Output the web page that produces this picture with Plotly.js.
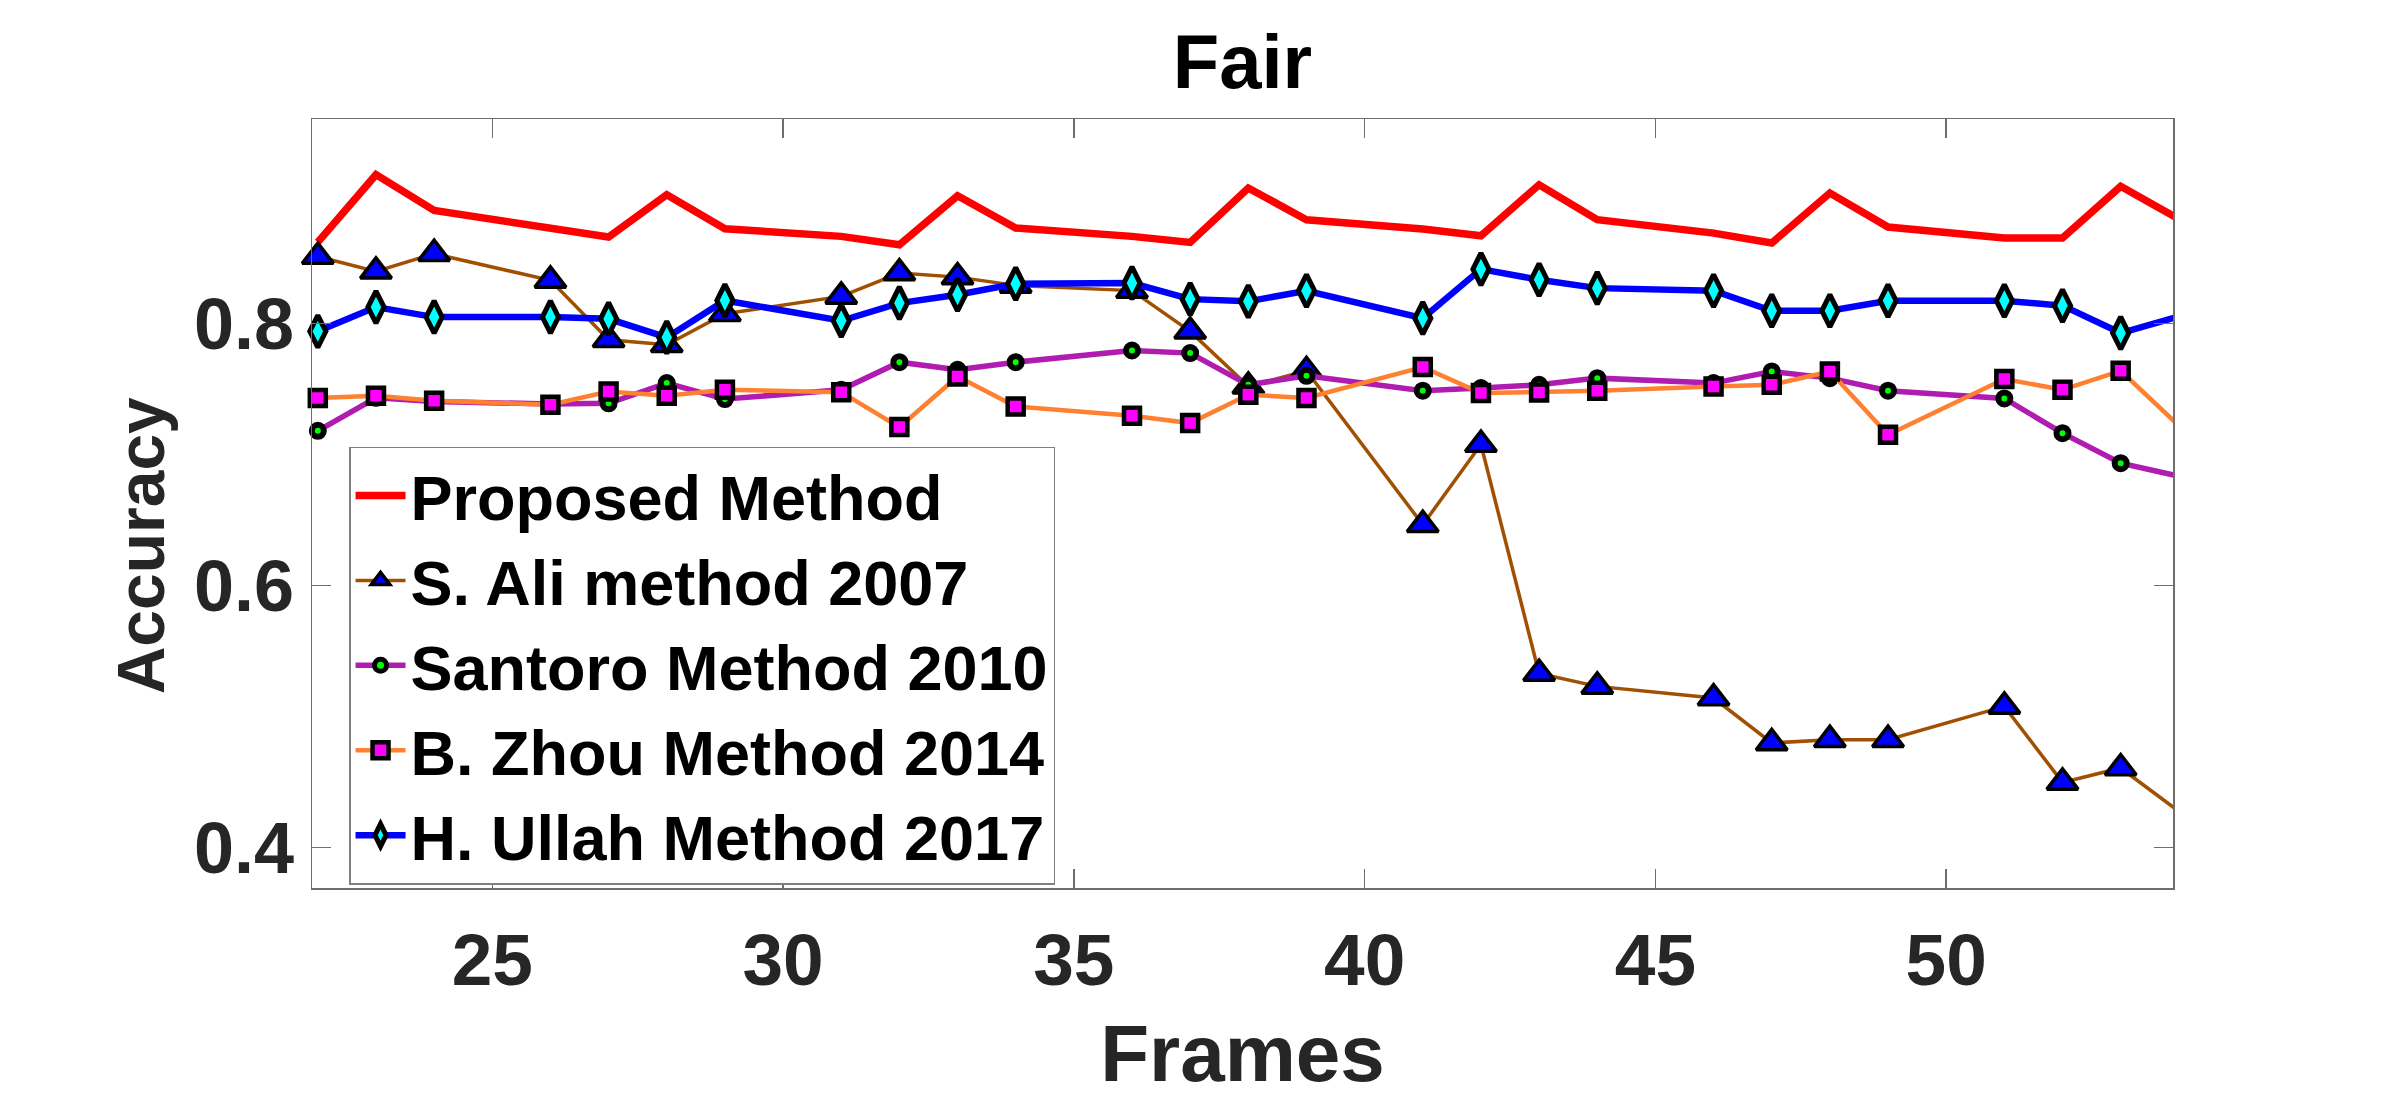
<!DOCTYPE html>
<html>
<head>
<meta charset="utf-8">
<script src="https://cdn.plot.ly/plotly-3.0.1.min.js"></script>
<style>
  html, body { margin: 0; padding: 0; background: #ffffff; }
  #chart { width: 2400px; height: 1098px; }
</style>
</head>
<body>
<div id="chart"></div>
<script>
// Frame numbers at which accuracy was evaluated
const frames = [22, 23, 24, 26, 27, 28, 29, 31, 32, 33, 34, 36, 37, 38, 39, 41, 42, 43, 44, 46, 47, 48, 49, 51, 52, 53, 54];

// Accuracy per method
const proposed = [0.862, 0.9135, 0.8862, 0.8728, 0.8659, 0.8982, 0.8722, 0.8664, 0.860, 0.8974, 0.8728, 0.8664, 0.8618, 0.9033, 0.8791, 0.872, 0.8669, 0.9058, 0.8791, 0.8689, 0.8613, 0.8995, 0.8735, 0.8651, 0.8651, 0.9046, 0.8796];
const sAli2007 = [0.851, 0.8397, 0.8532, 0.8328, 0.7875, 0.7837, 0.8073, 0.8206, 0.8384, 0.8353, 0.829, 0.825, 0.7939, 0.752, 0.7638, 0.6463, 0.7075, 0.5327, 0.5229, 0.514, 0.4797, 0.4822, 0.4822, 0.5076, 0.4496, 0.4606, 0.4275];
const santoro2010 = [0.718, 0.7432, 0.7404, 0.7384, 0.739, 0.7544, 0.7422, 0.7493, 0.7704, 0.7646, 0.7704, 0.7793, 0.7773, 0.7531, 0.760, 0.7486, 0.7506, 0.7531, 0.7582, 0.7544, 0.7633, 0.7582, 0.7486, 0.7427, 0.7162, 0.6933, 0.6834];
const zhou2014 = [0.743, 0.7447, 0.7409, 0.7379, 0.748, 0.7447, 0.7493, 0.7475, 0.7208, 0.7595, 0.7366, 0.7295, 0.7239, 0.7455, 0.743, 0.7666, 0.7468, 0.7473, 0.7486, 0.7519, 0.7531, 0.7633, 0.715, 0.7575, 0.7493, 0.7638, 0.722];
const ullah2017 = [0.7939, 0.8124, 0.8048, 0.8048, 0.8035, 0.7893, 0.8175, 0.802, 0.8155, 0.8219, 0.8302, 0.8308, 0.8185, 0.8168, 0.8249, 0.804, 0.8414, 0.8333, 0.8269, 0.8249, 0.8096, 0.8096, 0.8173, 0.8173, 0.8135, 0.7926, 0.8053];

// Axis ticks
const xTicks = [25, 30, 35, 40, 45, 50];
const yTicks = [0.4, 0.6, 0.8];
const yTickText = ['0.4', '0.6', '0.8'];

const FONT = 'Liberation Sans, Arial, Helvetica, sans-serif';
const AXIS_COLOR = '#6e6e6e';

const traces = [
  {
    x: frames, y: proposed, name: 'Proposed Method',
    mode: 'lines',
    line: { color: '#ff0000', width: 7.5 }
  },
  {
    x: frames, y: sAli2007, name: 'S. Ali method 2007',
    mode: 'lines+markers',
    line: { color: '#a05000', width: 3.5 },
    marker: { symbol: 'triangle-up', size: 27, color: '#0000ff', line: { color: '#000000', width: 3.5 } }
  },
  {
    x: frames, y: santoro2010, name: 'Santoro Method 2010',
    mode: 'lines+markers',
    line: { color: '#b01cb0', width: 5.5 },
    marker: { symbol: 'circle', size: 12, color: '#00ff00', line: { color: '#000000', width: 6 } }
  },
  {
    x: frames, y: zhou2014, name: 'B. Zhou Method 2014',
    mode: 'lines+markers',
    line: { color: '#ff8030', width: 4.5 },
    marker: { symbol: 'square', size: 16, color: '#ff00ff', line: { color: '#000000', width: 4.5 } }
  },
  {
    x: frames, y: ullah2017, name: 'H. Ullah Method 2017',
    mode: 'lines+markers',
    line: { color: '#0000ff', width: 6.5 },
    marker: { symbol: 'diamond-tall', size: 23, color: '#00ffff', line: { color: '#000000', width: 5 } }
  }
].map(t => Object.assign(t, { type: 'scatter', cliponaxis: false }));

const layout = {
  width: 2400,
  height: 1098,
  paper_bgcolor: '#ffffff',
  plot_bgcolor: '#ffffff',
  margin: { l: 312, r: 227, t: 119, b: 210, pad: 0 },
  font: { family: FONT, color: '#262626', weight: 'bold' },
  title: {
    text: 'Fair',
    font: { family: FONT, size: 76, color: '#000000', weight: 'bold' },
    xref: 'paper', x: 0.5, xanchor: 'center',
    yref: 'container', y: 0.944, yanchor: 'middle'
  },
  xaxis: {
    range: [21.9, 53.9],
    tickvals: xTicks,
    ticks: 'inside', ticklen: 19, tickwidth: 1.5, tickcolor: AXIS_COLOR,
    showline: true, linecolor: AXIS_COLOR, linewidth: 1.5, mirror: 'allticks',
    showgrid: false, zeroline: false,
    tickfont: { family: FONT, size: 73, color: '#262626', weight: 'bold' },
    ticklabelstandoff: 8,
    title: { text: 'Frames', font: { family: FONT, size: 80, color: '#262626', weight: 'bold' }, standoff: 35 }
  },
  yaxis: {
    range: [0.369, 0.956],
    tickvals: yTicks, ticktext: yTickText,
    ticks: 'inside', ticklen: 19, tickwidth: 1.5, tickcolor: AXIS_COLOR,
    showline: true, linecolor: AXIS_COLOR, linewidth: 1.5, mirror: 'allticks',
    showgrid: false, zeroline: false,
    tickfont: { family: FONT, size: 72, color: '#262626', weight: 'bold' },
    ticklabelstandoff: 2
  },
  annotations: [
    {
      // y-axis label
      text: 'Accuracy',
      xref: 'paper', x: -0.0917, xanchor: 'center',
      yref: 'paper', y: 0.4447, yanchor: 'middle',
      textangle: -90, showarrow: false,
      font: { family: FONT, size: 66, color: '#262626', weight: 'bold' }
    }
  ],
  legend: {
    x: 0.0199, xanchor: 'left',
    y: 0.574, yanchor: 'top',
    bgcolor: '#ffffff', bordercolor: '#808080', borderwidth: 1.5,
    font: { family: FONT, size: 63, color: '#000000', weight: 'bold' },
    itemwidth: 50,
    tracegroupgap: 0
  },
  showlegend: true
};

Plotly.newPlot('chart', traces, layout, { staticPlot: true, displayModeBar: false });
</script>
</body>
</html>
